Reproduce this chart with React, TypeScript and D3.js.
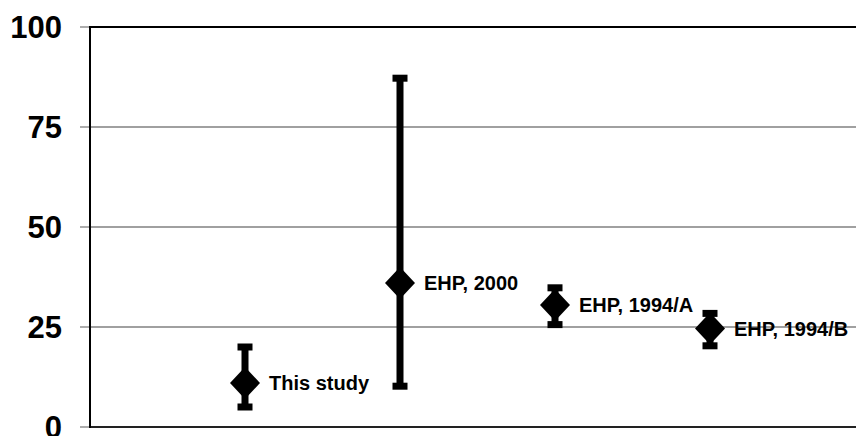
import React, { useRef, useEffect } from 'react';
import * as d3 from 'd3';

// data
const categories = ['This study', 'EHP, 2000', 'EHP, 1994/A', 'EHP, 1994/B'];
const means = [11, 36, 30.5, 24.6];
const upper = [20, 87.2, 34.8, 28.4];
const lower = [5, 10.2, 25.6, 20.3];
const yTicks = [0, 25, 50, 75, 100];

const W = 856;
const H = 436;
const FONT = '"Liberation Sans", Arial, sans-serif';

const App = () => {
  const svgRef = useRef<SVGSVGElement>(null);

  useEffect(() => {
    const svg = d3.select(svgRef.current);
    svg.selectAll('*').remove();

    // 1 unit on x = one category slot, 0 sits on the y axis
    const x = d3.scaleLinear().domain([0, 5]).range([90, 865]);
    const y = d3.scaleLinear().domain([0, 100]).range([427, 27]);

    const data = categories.map((c, i) => ({
      label: c,
      pos: i + 1,
      mean: means[i],
      hi: upper[i],
      lo: lower[i],
    }));

    // grid lines + small ticks left of axis
    const grid = svg.append('g');
    grid.selectAll('.grid')
      .data(yTicks.filter(t => t > 0 && t < 100))
      .enter()
      .append('line')
      .attr('x1', x(0))
      .attr('x2', W)
      .attr('y1', d => y(d))
      .attr('y2', d => y(d))
      .attr('stroke', '#808080')
      .attr('stroke-width', 1.3);

    grid.selectAll('.tick')
      .data(yTicks)
      .enter()
      .append('line')
      .attr('x1', x(0) - 10)
      .attr('x2', x(0))
      .attr('y1', d => y(d))
      .attr('y2', d => y(d))
      .attr('stroke', '#808080')
      .attr('stroke-width', 1.3);

    // frame: top line, bottom axis, left axis
    svg.append('line')
      .attr('x1', x(0)).attr('x2', W)
      .attr('y1', y(100)).attr('y2', y(100))
      .attr('stroke', '#000').attr('stroke-width', 2);
    svg.append('line')
      .attr('x1', x(0)).attr('x2', W)
      .attr('y1', y(0)).attr('y2', y(0))
      .attr('stroke', '#222').attr('stroke-width', 2);
    svg.append('line')
      .attr('x1', x(0)).attr('x2', x(0))
      .attr('y1', y(100) - 1).attr('y2', y(0) + 1)
      .attr('stroke', '#000').attr('stroke-width', 2);

    // y labels
    svg.selectAll('.ylab')
      .data(yTicks)
      .enter()
      .append('text')
      .attr('x', 62)
      .attr('y', d => y(d))
      .attr('dy', '0.36em')
      .attr('text-anchor', 'end')
      .style('font-family', FONT)
      .style('font-size', '31px')
      .style('font-weight', 'bold')
      .attr('fill', '#000')
      .text(d => d);

    const pts = svg.append('g');

    // error bars
    pts.selectAll('.bar')
      .data(data)
      .enter()
      .append('rect')
      .attr('x', d => x(d.pos) - 3.5)
      .attr('y', d => y(d.hi))
      .attr('width', 7)
      .attr('height', d => y(d.lo) - y(d.hi))
      .attr('fill', '#000');

    const caps = data.flatMap(d => [
      { pos: d.pos, v: d.hi },
      { pos: d.pos, v: d.lo },
    ]);
    pts.selectAll('.cap')
      .data(caps)
      .enter()
      .append('rect')
      .attr('x', d => x(d.pos) - 7.5)
      .attr('y', d => y(d.v) - 3.5)
      .attr('width', 15)
      .attr('height', 7)
      .attr('fill', '#000');

    // diamond markers
    pts.selectAll('.marker')
      .data(data)
      .enter()
      .append('path')
      .attr('d', d => {
        const cx = x(d.pos);
        const cy = y(d.mean);
        return `M${cx},${cy - 16}L${cx + 15},${cy}L${cx},${cy + 16}L${cx - 15},${cy}Z`;
      })
      .attr('fill', '#000');

    // point labels
    pts.selectAll('.lab')
      .data(data)
      .enter()
      .append('text')
      .attr('x', d => x(d.pos) + 24)
      .attr('y', d => y(d.mean))
      .attr('dy', '0.36em')
      .style('font-family', FONT)
      .style('font-size', '20px')
      .style('font-weight', 'bold')
      .attr('fill', '#000')
      .text(d => d.label);
  }, []);

  return (
    <svg
      ref={svgRef}
      width={W}
      height={H}
      style={{ position: 'absolute', left: 0, top: 0, background: '#fff' }}
    />
  );
};

export default App;
